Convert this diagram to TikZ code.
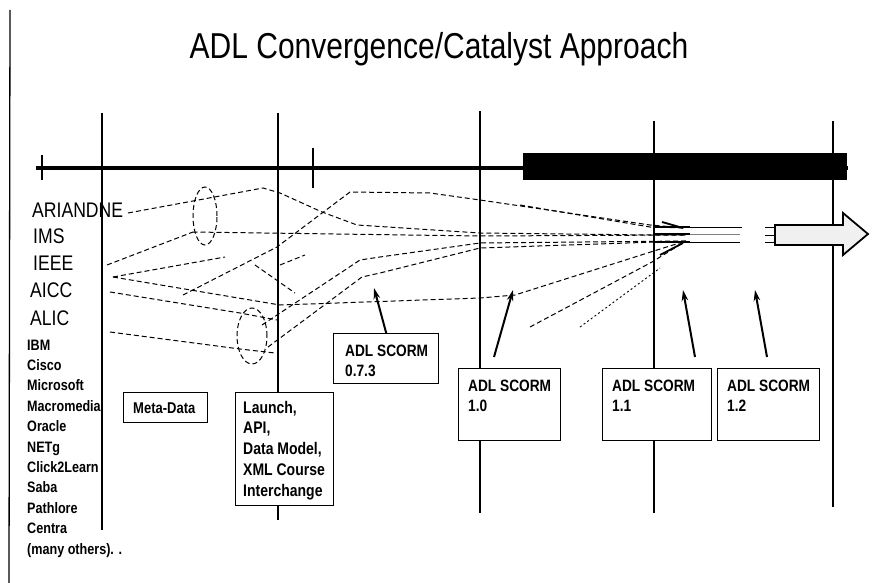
\documentclass[tikz,border=0pt]{standalone}
\usepackage{fontspec}
\setmainfont{Liberation Sans}
\usepackage{graphicx}
\usetikzlibrary{arrows.meta,shapes.geometric}
\newcommand\vsc[1]{\scalebox{1}[1.2]{#1}}
\begin{document}
\begin{tikzpicture}[x=1pt,y=-1pt,
  vline/.style={line width=1.6pt},
  dl/.style={line width=1pt, dash pattern=on 5pt off 3pt},
  dt/.style={line width=0.9pt, dash pattern=on 2pt off 2.5pt},
  box/.style={draw, line width=1.4pt, inner sep=0pt, anchor=north west},
  arr/.style={line width=2pt, -{Stealth[length=11pt,width=6.5pt]}},
  big/.style={font=\fontsize{17.6}{20}\selectfont, anchor=base west, inner sep=0pt},
  small/.style={font=\bfseries\fontsize{12.6}{14}\selectfont, anchor=base west, inner sep=0pt},
  btxt/.style={font=\bfseries\fontsize{13.7}{16.7}\selectfont, anchor=base west, inner sep=0pt},
]
\useasboundingbox (0,0) rectangle (889,583);

% title
\node[anchor=base, inner sep=0pt, font=\fontsize{30}{36}\selectfont] (title) at (439,59) {\vsc{ADL Convergence/Catalyst Approach}};

% left border
\coordinate (lb0) at (10,10);
\coordinate (lb1) at (9,583);
\draw[line width=1.3pt] (lb0) -- (lb1);

% timeline
\coordinate (tl0) at (36,168);
\coordinate (tl1) at (848,168);
\draw[line width=3.5pt] (tl0) -- (tl1);
\draw[line width=1.5pt] (42,155) -- (42,180);
\draw[line width=1.5pt] (313,148) -- (313,188);
\fill (523,153) rectangle (847,180);

% boxes
\node[box, minimum width=84pt, minimum height=30pt] (bmeta) at (123,392) {};
\node[box, minimum width=98pt, minimum height=113pt] (blaunch) at (235,392) {};
\node[box, minimum width=105pt, minimum height=50pt] (b073) at (333,333) {};
\node[box, minimum width=102pt, minimum height=72pt] (b10) at (458,368) {};
\node[box, minimum width=109pt, minimum height=72pt] (b11) at (602,368) {};
\node[box, minimum width=102pt, minimum height=72pt] (b12) at (717,368) {};

% box texts
\node[small, font=\bfseries\fontsize{13}{15}\selectfont] (tmeta) at (133,413) {\vsc{Meta-Data}};
\node[anchor=base west, inner sep=0pt, font=\bfseries\fontsize{14}{17.3}\selectfont] (tlaunch) at (243,413)
  {\vsc{\begin{tabular}[t]{@{}l@{}}Launch,\\API,\\Data Model,\\XML Course\\Interchange\end{tabular}}};
\node[btxt] (t073) at (345,356) {\vsc{\begin{tabular}[t]{@{}l@{}}ADL SCORM\\0.7.3\end{tabular}}};
\node[btxt] (t10) at (468,391) {\vsc{\begin{tabular}[t]{@{}l@{}}ADL SCORM\\1.0\end{tabular}}};
\node[btxt] (t11) at (612,391) {\vsc{\begin{tabular}[t]{@{}l@{}}ADL SCORM\\1.1\end{tabular}}};
\node[btxt] (t12) at (727,391) {\vsc{\begin{tabular}[t]{@{}l@{}}ADL SCORM\\1.2\end{tabular}}};

% vertical lines
\coordinate (v1t) at (102,113); \coordinate (v1b) at (102,530);
\draw[vline] (v1t) -- (v1b);
\coordinate (v2t) at (278,113); \coordinate (v2b) at (278,520);
\draw[vline] (v2t) -- (v2t |- blaunch.north);
\draw[vline] (v2t |- blaunch.south) -- (v2b);
\coordinate (v3t) at (480,111); \coordinate (v3b) at (480,513);
\draw[vline] (v3t) -- (v3t |- b10.north);
\draw[vline] (v3t |- b10.south) -- (v3b);
\coordinate (v4t) at (654,121); \coordinate (v4b) at (654,513);
\draw[vline] (v4t) -- (v4t |- b11.north);
\draw[vline] (v4t |- b11.south) -- (v4b);
\coordinate (v5t) at (833,121); \coordinate (v5b) at (833,507);
\draw[vline] (v5t) -- (v5b);

% left labels
\node[big] (ari) at (32,217) {\vsc{ARIANDNE}};
\node[big] (ims) at (33,243) {\vsc{IMS}};
\node[big] (ieee) at (33,270) {\vsc{IEEE}};
\node[big] (aicc) at (30,297) {\vsc{AICC}};
\node[big] (alic) at (30,325) {\vsc{ALIC}};
\foreach \t [count=\i from 0] in {IBM,Cisco,Microsoft,Macromedia,Oracle,NETg,Click2Learn,Saba,Pathlore,Centra,(many others). .}
  {\node[small] (co\i) at (27,{350+20.4*\i}) {\vsc{\t}};}

% ellipses
\node[draw, dl, ellipse, minimum width=24pt, minimum height=58pt, inner sep=0pt] (ell1) at (205,216) {};
\node[draw, dl, ellipse, minimum width=30pt, minimum height=56pt, inner sep=0pt] (ell2) at (252,336) {};

% convergence points
\coordinate (cvA) at (686,228);
\coordinate (cvB) at (686,235);
\coordinate (cvC) at (686,241);

% converging dashed lines
\draw[dl] (128,213) -- (193,201) -- (263,188) -- (280,193) -- (322,212) -- (357,225) -- (480,233) -- (652,235) -- (cvB);
\draw[dl] (ell1.west |- 0,232) -- (480,236) -- (cvB);
\draw[dl] (107,265) -- (193,232);
\draw[dl] (113,277) -- (225,257);
\draw[dl] (280,265) -- (305,255);
\draw[dl] (255,265) -- (295,293);
\draw[dl] (262,325) -- (360,260) -- (380,257) -- (480,243) -- (cvC);
\draw[dl] (268,347) -- (362,277) -- (380,273) -- (480,248) -- (cvC);
\draw[dl] (110,292) -- (240,313) -- (277,320);
\draw[dl] (113,277) -- (280,305) -- (480,298) -- (515,295) -- (657,250) -- (cvC);
\draw[dl] (530,327) -- (652,262) -- (cvC);
\draw[dt] (580,327) -- (660,268);
\draw[dl] (183,295) -- (277,247) -- (350,192) -- (430,193) -- (480,200) -- (650,225) -- (cvA);
\draw[dl] (520,205) -- (650,227) -- (cvA);
\draw[dl] (110,332) -- (240,349) -- (275,353);

% convergence bundle
\coordinate (cvE) at (742,227);
\draw[line width=1.8pt] (654,227) -- (690,227);
\draw[line width=1.8pt] (654,234) -- (690,234);
\draw[line width=1.8pt] (654,242) -- (690,242);
\draw[line width=1.8pt] (660,255) -- (683,243);
\draw[line width=1.8pt] (662,222) -- (683,228);
\draw[line width=0.8pt] (690,227) -- (cvE);
\draw[line width=0.8pt, gray] (690,234) -- (740,234);
\draw[line width=0.8pt] (690,242) -- (740,242);
\draw[line width=0.8pt] (765,227) -- (775,227);
\draw[line width=0.8pt] (765,235) -- (775,235);
\draw[line width=0.8pt] (765,242) -- (775,242);

% big arrow
\draw[line width=1.8pt, fill=gray!12] (775,225) -- (843,225) -- (843,213) -- (868,234) -- (843,255) -- (843,245) -- (775,245) -- cycle;

% arrows from boxes
\coordinate (a073) at (374,288);
\coordinate (s10) at (494,357);
\coordinate (a10) at (513,290);
\coordinate (s11) at (695,357);
\coordinate (a11) at (683,290);
\coordinate (s12) at (767,357);
\coordinate (a12) at (755,290);
\draw[arr] (b073.north) -- (a073);
\draw[arr] (s10) -- (a10);
\draw[arr] (s11) -- (a11);
\draw[arr] (s12) -- (a12);
\end{tikzpicture}
\end{document}
